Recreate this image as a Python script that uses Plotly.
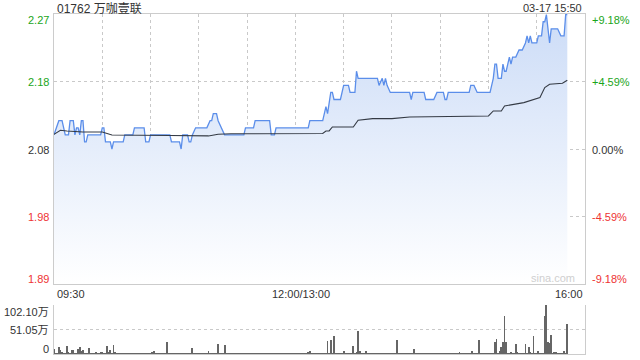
import plotly.graph_objects as go

# ---------------- data ----------------
title_text = "01762 万咖壹联"
stamp_text = "03-17 15:50"
prev_close = 2.08

price_ticks = ["2.27", "2.18", "2.08", "1.98", "1.89"]
pct_ticks = ["+9.18%", "+4.59%", "0.00%", "-4.59%", "-9.18%"]
time_labels = ["09:30", "12:00/13:00", "16:00"]
vol_ticks = ["102.10万", "51.05万", "0"]

# minute index (0 = 09:30, 150 = 12:00/13:00, 330 = 16:00)
price_min = [0, 3, 5, 7, 9, 10, 12, 13, 14, 15, 16, 17, 18, 19, 20, 21, 29, 30, 31, 32,
             35, 36, 37, 43, 44, 49, 50, 56, 57, 59, 60, 72, 73, 78, 79, 80, 83, 84, 85, 86,
             88, 95, 97, 98, 99, 101, 102, 104, 106, 118, 119, 124, 125, 134, 135, 137, 138,
             158, 159, 167, 169, 170, 172, 173, 174, 178, 179, 180, 183, 184, 187, 188, 189,
             201, 202, 204, 205, 206, 207, 209, 221, 222, 223, 230, 231, 236, 238, 242, 243,
             244, 245, 258, 259, 261, 263, 271, 273, 274, 275, 276, 278, 279, 280, 281, 282,
             283, 284, 285, 287, 289, 291, 293, 294, 295, 296, 297, 300, 301, 303, 304, 305,
             306, 308, 309, 313, 315, 317, 318, 319]
price_val = [2.10, 2.12, 2.12, 2.10, 2.10, 2.12, 2.12, 2.10, 2.11, 2.11, 2.10, 2.12, 2.12, 2.09,
             2.09, 2.10, 2.10, 2.11, 2.11, 2.09, 2.09, 2.08, 2.09, 2.09, 2.10, 2.10, 2.11, 2.11,
             2.09, 2.09, 2.10, 2.10, 2.09, 2.09, 2.08, 2.10, 2.10, 2.09, 2.09, 2.10, 2.11, 2.11,
             2.12, 2.12, 2.13, 2.13, 2.12, 2.11, 2.10, 2.10, 2.11, 2.11, 2.12, 2.12, 2.10, 2.10,
             2.11, 2.11, 2.12, 2.12, 2.14, 2.13, 2.16, 2.16, 2.15, 2.15, 2.16, 2.17, 2.17, 2.16,
             2.16, 2.19, 2.18, 2.18, 2.17, 2.18, 2.17, 2.18, 2.17, 2.16, 2.16, 2.15, 2.16, 2.16,
             2.15, 2.15, 2.16, 2.16, 2.15, 2.15, 2.16, 2.16, 2.17, 2.17, 2.16, 2.16, 2.18, 2.20,
             2.20, 2.18, 2.18, 2.20, 2.19, 2.19, 2.20, 2.21, 2.20, 2.21, 2.21, 2.22, 2.22, 2.23,
             2.24, 2.23, 2.24, 2.23, 2.23, 2.24, 2.24, 2.26, 2.26, 2.27, 2.23, 2.25, 2.25, 2.24,
             2.24, 2.27, 2.27]

avg_min = [0, 4, 8, 18, 30, 36, 72, 90, 96, 102, 110, 167, 169, 171, 173, 186, 189, 198, 210,
           221, 248, 250, 270, 273, 278, 280, 286, 292, 302, 305, 308, 316, 319]
avg_val = [2.1008, 2.1065, 2.1055, 2.104, 2.104, 2.0998, 2.099, 2.0985, 2.0985, 2.1008, 2.1015,
           2.102, 2.1055, 2.1055, 2.1111, 2.1111, 2.1206, 2.123, 2.123, 2.1253, 2.1258, 2.1267,
           2.1267, 2.1338, 2.1338, 2.1408, 2.1432, 2.1456, 2.1527, 2.1669, 2.1715, 2.173, 2.1772]

# volume per minute, in 万
volume = [
    11.7, 3, 2, 15, 8, 4, 2, 3, 16.5, 5, 2, 8, 9, 3, 2, 10, 15, 7, 9, 2,
    3, 2, 13, 2, 3, 1.5, 4, 3, 2, 5, 4, 3, 2, 17, 4, 8, 2, 19, 5, 1.5,
    1.5, 2, 1, 1.5, 2, 1, 1, 1.5, 1, 2, 1, 1.5, 1, 2, 3, 1, 1.5, 1, 2, 1,
    1.5, 5, 7, 1.5, 1, 2, 1.5, 1, 1, 1.5, 25.5, 2, 1, 1.5, 2, 1, 1.5, 1, 1, 2,
    1, 1.5, 2, 1, 1.5, 1, 12.5, 1.5, 1, 2, 1, 1.5, 1, 1, 2, 3, 6, 1.5, 1, 1.5,
    2, 1, 22, 1.5, 1, 2, 19, 1, 1.5, 1, 1, 1.5, 1, 2, 1, 1, 1.5, 1, 1, 2,
    1, 1.5, 1, 1, 2, 1, 1.5, 1, 1, 1.5, 2, 1, 1, 1.5, 1, 1, 2, 1, 1, 1.5,
    1, 1.5, 1, 2, 1, 1, 1.5, 1, 1, 2, 1, 1.5, 1, 3, 1, 1.5, 1, 2, 4, 7,
    2, 1.5, 1, 2, 1, 1.5, 1, 2, 1.5, 3, 27.6, 2, 29, 1.5, 38, 1, 1.5, 2, 1, 1,
    6, 1.5, 1, 2, 1, 1.5, 16.5, 1, 5, 48, 6, 1.5, 1, 2, 6, 1, 1.5, 1, 2, 1,
    1.5, 1, 2, 1, 1.5, 1, 1, 2, 1, 1.5, 1, 1, 2, 29, 1.5, 1, 1, 2, 1, 1.5,
    1, 1, 2, 1, 12, 1.5, 1, 1, 2, 1, 1.5, 1, 1, 2, 1, 1, 1.5, 1, 1, 2,
    1, 1.5, 1, 1, 2, 1, 1, 1.5, 1, 2, 1, 1.5, 5, 1, 1, 2, 1, 1.5, 1, 1,
    6, 1.5, 1, 2, 29, 1, 1.5, 1, 1, 2, 1.5, 1, 2, 1.5, 25.5, 31, 2, 6, 15, 25,
    79, 25, 2, 1.5, 5, 2, 1.5, 22, 5, 2, 1.5, 1, 2, 22, 1.5, 15, 5, 2, 37, 1.5,
    2, 6, 1.5, 2, 1.5, 79, 102, 25, 23.5, 40, 2, 5, 5, 1.5, 2, 1, 1.5, 7, 2, 62,
]
vol_max = 102.10

# ---------------- styling ----------------
W, H = 640, 360
X0, X1 = 54, 585
PY0, PY1 = 14, 284
VY0, VY1 = 304.7, 354
FONT = "Liberation Sans, Arial, Noto Sans CJK SC, sans-serif"
GREEN, RED, DARK = "#1aa51a", "#ee3333", "#333333"
GRID = "#c9c9c9"
BORDER = "#cccccc"
LS = 11  # label font size

pmax = prev_close * 1.0918
pmin = prev_close * (1 - 0.0918)
price_levels = [pmax, prev_close * 1.0459, prev_close, prev_close * (1 - 0.0459), pmin]

def px(x):
    return x / W

def py(y):
    return 1 - y / H

fig = go.Figure()

fig.add_trace(go.Scatter(
    x=price_min, y=price_val, mode="lines",
    line=dict(color="#5b8eea", width=1.3),
    fill="tozeroy",
    fillgradient=dict(type="vertical", start=pmin, stop=pmax,
                      colorscale=[[0, "rgba(255,255,255,1)"], [1, "rgb(204,220,247)"]]),
    xaxis="x", yaxis="y", hoverinfo="skip", showlegend=False))

fig.add_trace(go.Scatter(
    x=avg_min, y=avg_val, mode="lines",
    line=dict(color="#343a44", width=1.1),
    xaxis="x", yaxis="y", hoverinfo="skip", showlegend=False))

fig.add_trace(go.Bar(
    x=list(range(len(volume))), y=volume, width=0.55,
    marker=dict(color="#666666", line=dict(width=0)),
    xaxis="x2", yaxis="y2", hoverinfo="skip", showlegend=False))

grid_min = list(range(30, 330, 30))

fig.update_layout(
    width=W, height=H, margin=dict(l=0, r=0, t=0, b=0),
    paper_bgcolor="white", plot_bgcolor="rgba(0,0,0,0)",
    font=dict(family=FONT, size=LS, color=DARK),
    bargap=0,
    xaxis=dict(domain=[px(X0), px(X1)], range=[0, 330], anchor="y",
               tickvals=grid_min, showticklabels=False, ticks="",
               showgrid=True, gridcolor=GRID, griddash="dot", gridwidth=1,
               showline=True, linecolor=BORDER, linewidth=1, mirror=True,
               zeroline=False, fixedrange=True),
    yaxis=dict(domain=[py(PY1), py(PY0)], range=[pmin, pmax], anchor="x",
               tickvals=price_levels[1:4], showticklabels=False, ticks="",
               showgrid=True, gridcolor=GRID, griddash="dot", gridwidth=1,
               showline=True, linecolor=BORDER, linewidth=1, mirror=True,
               zeroline=False, fixedrange=True),
    xaxis2=dict(domain=[px(X0), px(X1)], range=[0, 330], anchor="y2",
                showticklabels=False, ticks="", showgrid=False,
                showline=True, linecolor=BORDER, linewidth=1, mirror=False,
                zeroline=False, fixedrange=True),
    yaxis2=dict(domain=[py(VY1), py(VY0)], range=[0, vol_max], anchor="x2",
                tickvals=[vol_max / 2, vol_max], showticklabels=False, ticks="",
                showgrid=True, gridcolor=GRID, griddash="dot", gridwidth=1,
                showline=True, linecolor=BORDER, linewidth=1, mirror=True,
                zeroline=False, fixedrange=True),
)

ann = []
# title & timestamp
ann.append(dict(x=px(55), y=py(8), xref="paper", yref="paper", text=title_text,
                showarrow=False, xanchor="left", yanchor="middle",
                font=dict(size=12, color=DARK, family=FONT)))
ann.append(dict(x=px(584), y=py(8), xref="paper", yref="paper", text=stamp_text,
                showarrow=False, xanchor="right", yanchor="middle",
                font=dict(size=LS, color=DARK, family=FONT)))

# price & percent labels
label_colors = [GREEN, GREEN, DARK, RED, RED]
label_y_px = [20, 82, 149.5, 217, 278.5]
for txt, pct, col, ypx in zip(price_ticks, pct_ticks, label_colors, label_y_px):
    ann.append(dict(x=px(50.5), y=py(ypx), xref="paper", yref="paper", text=txt,
                    showarrow=False, xanchor="right", yanchor="middle",
                    font=dict(size=LS, color=col, family=FONT)))
    ann.append(dict(x=px(589.5), y=py(ypx), xref="paper", yref="paper", text=pct,
                    showarrow=False, xanchor="left", yanchor="middle",
                    font=dict(size=LS, color=col, family=FONT)))

# time labels
ann.append(dict(x=px(55), y=py(294), xref="paper", yref="paper", text=time_labels[0],
                showarrow=False, xanchor="left", yanchor="middle",
                font=dict(size=LS, color=DARK, family=FONT)))
ann.append(dict(x=px(301), y=py(294), xref="paper", yref="paper", text=time_labels[1],
                showarrow=False, xanchor="center", yanchor="middle",
                font=dict(size=LS, color=DARK, family=FONT)))
ann.append(dict(x=px(585), y=py(294), xref="paper", yref="paper", text=time_labels[2],
                showarrow=False, xanchor="right", yanchor="middle",
                font=dict(size=LS, color=DARK, family=FONT)))

# volume labels
for txt, ypx in zip(vol_ticks, [312, 330, 348.5]):
    ann.append(dict(x=px(50.5), y=py(ypx), xref="paper", yref="paper", text=txt,
                    showarrow=False, xanchor="right", yanchor="middle",
                    font=dict(size=LS, color=DARK, family=FONT)))

# watermark
ann.append(dict(x=px(553), y=py(278), xref="paper", yref="paper", text="sina.com",
                showarrow=False, xanchor="center", yanchor="middle",
                font=dict(size=11, color="#cfcfcf", family=FONT)))

fig.update_layout(annotations=ann)

fig.write_html("out.html")
